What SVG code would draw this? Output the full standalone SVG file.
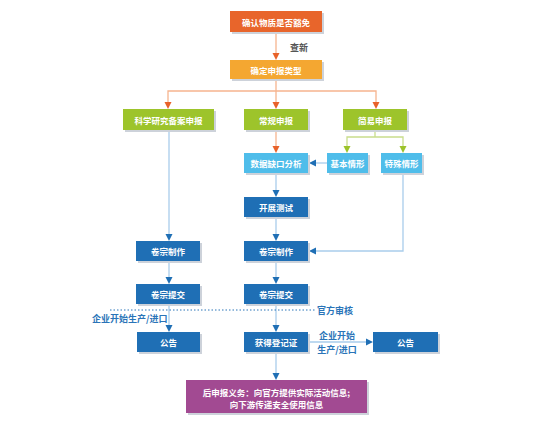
<svg xmlns="http://www.w3.org/2000/svg" width="556" height="433" viewBox="0 0 556 433">
<defs>
<style>
.sh{fill:#cdd2da;}
.t{font-family:"Noto Sans CJK SC","Liberation Sans",sans-serif;font-size:8.5px;font-weight:bold;fill:#ffffff;text-anchor:middle;dominant-baseline:central;}
.lb{font-family:"Noto Sans CJK SC","Liberation Sans",sans-serif;font-size:9px;font-weight:bold;fill:#2a74b8;dominant-baseline:central;}
.or{stroke:#f6b48e;stroke-width:1.3;fill:none;}
.gr{stroke:#c9dd8c;stroke-width:1.3;fill:none;}
.bl{stroke:#a9cdeb;stroke-width:1.3;fill:none;}
</style>
</defs>
<rect width="556" height="433" fill="#ffffff"/>

<g id="connectors">
<line class="or" x1="276" y1="32" x2="276" y2="54"/>
<path d="M272.5,53L279.5,53L276,60Z" fill="#e8622a"/>
<path class="or" d="M168,103V91H376V103"/>
<line class="or" x1="276" y1="79" x2="276" y2="103"/>
<path d="M164.5,102L171.5,102L168,109Z" fill="#e8622a"/>
<path d="M272.5,102L279.5,102L276,109Z" fill="#e8622a"/>
<path d="M372.5,102L379.5,102L376,109Z" fill="#e8622a"/>
<line class="or" x1="276" y1="130" x2="276" y2="147"/>
<path d="M272.5,146L279.5,146L276,153Z" fill="#e8622a"/>
<path class="gr" d="M375,130V137M347,147V137H403V147"/>
<path d="M343.5,146L350.5,146L347,153Z" fill="#9cc32a"/>
<path d="M399.5,146L406.5,146L403,153Z" fill="#9cc32a"/>
<line class="bl" x1="327" y1="163" x2="315" y2="163"/>
<path d="M316,159.5L316,166.5L309,163Z" fill="#1f6fb5"/>
<line class="bl" x1="276" y1="173" x2="276" y2="191"/>
<path d="M272.5,190L279.5,190L276,197Z" fill="#1f6fb5"/>
<line class="bl" x1="276" y1="217" x2="276" y2="235"/>
<path d="M272.5,234L279.5,234L276,241Z" fill="#1f6fb5"/>
<path class="bl" d="M403,173V251H315"/>
<path d="M316,247.5L316,254.5L309,251Z" fill="#1f6fb5"/>
<line class="bl" x1="169" y1="130" x2="169" y2="235"/>
<path d="M165.5,234L172.5,234L169,241Z" fill="#1f6fb5"/>
<line class="bl" x1="169" y1="261" x2="169" y2="278"/>
<path d="M165.5,277L172.5,277L169,284Z" fill="#1f6fb5"/>
<line class="bl" x1="276" y1="261" x2="276" y2="278"/>
<path d="M272.5,277L279.5,277L276,284Z" fill="#1f6fb5"/>
<line class="bl" x1="169" y1="304" x2="169" y2="326"/>
<path d="M165.5,325L172.5,325L169,332Z" fill="#1f6fb5"/>
<line class="bl" x1="276" y1="304" x2="276" y2="326"/>
<path d="M272.5,325L279.5,325L276,332Z" fill="#1f6fb5"/>
<line class="bl" x1="308" y1="342" x2="367" y2="342"/>
<path d="M366,338.5L366,345.5L373,342Z" fill="#1f6fb5"/>
<line class="bl" x1="276" y1="352" x2="276" y2="374"/>
<path d="M272.5,373L279.5,373L276,380Z" fill="#1f6fb5"/>
<line x1="110" y1="310" x2="315" y2="310" stroke="#2a74b8" stroke-width="1" stroke-dasharray="1.5,2"/>
</g>

<g id="labels">
<text x="290" y="47" class="lb" style="fill:#555555">查新</text>
<text x="317" y="310" class="lb">官方审核</text>
<text x="92" y="318" class="lb">企业开始生产/进口</text>
<text x="337" y="335" class="lb" text-anchor="middle">企业开始</text>
<text x="337" y="349" class="lb" text-anchor="middle">生产/进口</text>
</g>

<g id="n1"><rect class="sh" x="232" y="13" width="92" height="21"/><rect x="230" y="11" width="92" height="21" fill="#e8652b"/><text class="t" x="276" y="21.5">确认物质是否豁免</text></g>
<g id="n2"><rect class="sh" x="232" y="62" width="92" height="19"/><rect x="230" y="60" width="92" height="19" fill="#f4a731"/><text class="t" x="276" y="69.5">确定申报类型</text></g>
<g id="n3"><rect class="sh" x="125" y="111" width="91" height="21"/><rect x="123" y="109" width="91" height="21" fill="#9dc42b"/><text class="t" x="168.5" y="119.5">科学研究备案申报</text></g>
<g id="n4"><rect class="sh" x="246" y="111" width="64" height="21"/><rect x="244" y="109" width="64" height="21" fill="#9dc42b"/><text class="t" x="276" y="119.5">常规申报</text></g>
<g id="n5"><rect class="sh" x="345" y="111" width="64" height="21"/><rect x="343" y="109" width="64" height="21" fill="#9dc42b"/><text class="t" x="375" y="119.5">简易申报</text></g>
<g id="n6"><rect class="sh" x="246" y="155" width="64" height="20"/><rect x="244" y="153" width="64" height="20" fill="#4fbdea"/><text class="t" x="276" y="163">数据缺口分析</text></g>
<g id="n7"><rect class="sh" x="329" y="155" width="41" height="20"/><rect x="327" y="153" width="41" height="20" fill="#4fbdea"/><text class="t" x="347.5" y="163">基本情形</text></g>
<g id="n8"><rect class="sh" x="383" y="155" width="41" height="20"/><rect x="381" y="153" width="41" height="20" fill="#4fbdea"/><text class="t" x="401.5" y="163">特殊情形</text></g>
<g id="n9"><rect class="sh" x="246" y="199" width="64" height="20"/><rect x="244" y="197" width="64" height="20" fill="#1f6fb5"/><text class="t" x="276" y="207">开展测试</text></g>
<g id="n10"><rect class="sh" x="138" y="243" width="64" height="20"/><rect x="136" y="241" width="64" height="20" fill="#1f6fb5"/><text class="t" x="168" y="251">卷宗制作</text></g>
<g id="n11"><rect class="sh" x="246" y="243" width="64" height="20"/><rect x="244" y="241" width="64" height="20" fill="#1f6fb5"/><text class="t" x="276" y="251">卷宗制作</text></g>
<g id="n12"><rect class="sh" x="138" y="286" width="64" height="20"/><rect x="136" y="284" width="64" height="20" fill="#1f6fb5"/><text class="t" x="168" y="294">卷宗提交</text></g>
<g id="n13"><rect class="sh" x="246" y="286" width="64" height="20"/><rect x="244" y="284" width="64" height="20" fill="#1f6fb5"/><text class="t" x="276" y="294">卷宗提交</text></g>
<g id="n14"><rect class="sh" x="139" y="334" width="63" height="20"/><rect x="137" y="332" width="63" height="20" fill="#1f6fb5"/><text class="t" x="168.5" y="342">公告</text></g>
<g id="n15"><rect class="sh" x="246" y="334" width="64" height="20"/><rect x="244" y="332" width="64" height="20" fill="#1f6fb5"/><text class="t" x="276" y="342">获得登记证</text></g>
<g id="n16"><rect class="sh" x="375" y="334" width="65" height="20"/><rect x="373" y="332" width="65" height="20" fill="#1f6fb5"/><text class="t" x="405.5" y="342">公告</text></g>
<g id="n17"><rect class="sh" x="188" y="382" width="181" height="33"/><rect x="186" y="380" width="181" height="33" fill="#a24a92"/><text class="t" x="276.5" y="391.5">后申报义务：向官方提供实际活动信息;</text><text class="t" x="276.5" y="403.5">向下游传递安全使用信息</text></g>
</svg>
